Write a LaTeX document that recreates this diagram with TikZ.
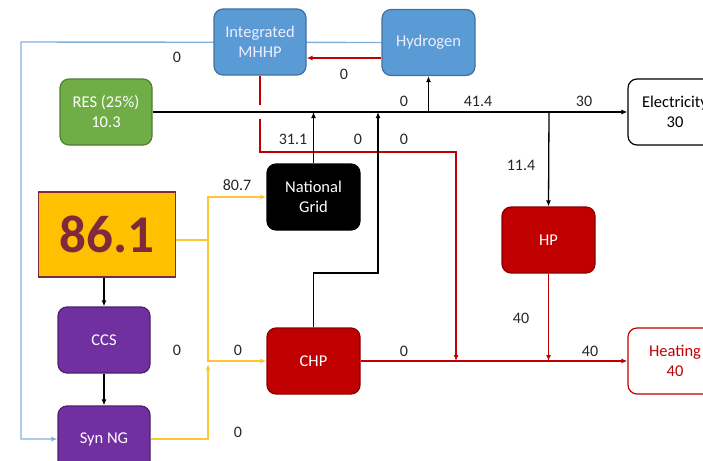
\documentclass[tikz,border=0pt]{standalone}
\usepackage{fontspec}
\setmainfont{Carlito}
\usetikzlibrary{arrows.meta,backgrounds}

\definecolor{mblue}{HTML}{5B9BD5}
\definecolor{mblueD}{HTML}{41719C}
\definecolor{lblue}{HTML}{7FB0DD}
\definecolor{mgreen}{HTML}{70AD47}
\definecolor{mgreenD}{HTML}{507E32}
\definecolor{mpurple}{HTML}{7030A0}
\definecolor{mpurpleD}{HTML}{4E1F72}
\definecolor{mred}{HTML}{C00000}
\definecolor{mredD}{HTML}{8C0000}
\definecolor{myellow}{HTML}{FFC000}
\definecolor{ylink}{HTML}{FFC533}
\definecolor{maroon}{HTML}{7F2A3C}

\begin{document}
\begin{tikzpicture}[x=1pt,y=-1pt,
  box/.style={rounded corners=9pt, minimum width=92pt, minimum height=66pt,
    line width=1.2pt, align=center, inner sep=0pt,
    font=\fontsize{16.5}{20}\selectfont},
  lbl/.style={inner sep=0pt, text=black!85, font=\fontsize{16}{18}\selectfont},
  tip/.style={-{Latex[length=6pt,width=5pt]}},
  blk/.style={line width=1.3pt, black, tip},
  redl/.style={line width=1.4pt, mred, tip},
  yel/.style={line width=1.4pt, ylink, tip},
  blu/.style={line width=1.4pt, lblue, tip}]

\useasboundingbox (0,0) rectangle (703,460);
\clip (0,0) rectangle (703,460);

% process boxes
\node[box, fill=mblue, draw=mblueD, text=white!93!blue] (mhhp) at (260,42) {Integrated\\MHHP};
\node[box, fill=mblue, draw=mblueD, text=white!93!blue, minimum width=93pt] (hyd) at (428.5,42.5) {Hydrogen};
\node[box, fill=mgreen, draw=mgreenD, text=white] (res) at (106,112) {RES (25\%)\\10.3};
\node[box, fill=white, draw=black, minimum width=94pt] (elec) at (675,112) {Electricity\\30};
\node[box, fill=black, draw=black, text=white, minimum width=93pt] (ng) at (313.5,197) {National\\Grid};
\node[draw=maroon, fill=myellow, line width=1.4pt, minimum width=137pt, minimum height=85pt,
  inner sep=0pt, text=maroon, font=\fontsize{53}{53}\selectfont\bfseries] (big) at (107,234.5) {86.1};
\node[box, fill=mpurple, draw=mpurpleD, text=white] (ccs) at (104,340) {CCS};
\node[box, fill=mpurple, draw=mpurpleD, text=white] (syn) at (104,439) {Syn NG};
\node[box, fill=mred, draw=mredD, text=white, minimum width=93pt] (chp) at (313.5,361) {CHP};
\node[box, fill=mred, draw=mredD, text=white, minimum width=93pt] (hp) at (548.5,240) {HP};
\node[box, fill=white, draw=mred, text=mred, minimum width=94pt] (heat) at (675,361) {Heating\\40};

% junction points on the flow lines
\coordinate (bl) at (21,42);
\coordinate (redturn) at (456,152);
\coordinate (redin) at (456,361);
\coordinate (chpup) at (378,273);
\coordinate (hpsplit) at (549,112);
\coordinate (ysplit) at (208,240);
\coordinate (yin) at (208,364);

\begin{scope}[on background layer]
  % hydrogen feed to Syn NG
  \draw[blu] (hyd.west) -- (bl) |- (syn.west);
  % hydrogen to MHHP
  \draw[redl] (hyd.west |- 0,58) -- (mhhp.east |- 0,58);
  % MHHP heat output
  \draw[redl] (mhhp.south) |- (redturn) -- (redin);
  \draw[white, line width=4pt] (260,105) -- (260,119);
  % electricity bus
  \draw[blk] (res.east) -- (elec.west);
  \draw[blk] (hyd.south |- res.east) -- (hyd.south);
  \draw[blk] (ng.north) -- (ng.north |- res.east);
  \draw[blk] (chp.north) |- (chpup) -- (chpup |- res.east);
  \draw[blk] (hpsplit) -- (hp.north);
  \draw[redl] (hp.south) -- (hp.south |- chp.east);
  \draw[redl] (chp.east) -- (heat.west);
  % gas supply
  \draw[yel] (big.east |- ysplit) -- (ysplit) |- (ng.west);
  \draw[yel] (ysplit) |- (chp.west);
  \draw[yel] (syn.east) -| (yin);
  \draw[blk] (ccs.north |- big.south) -- (ccs.north);
  \draw[blk] (ccs.south) -- (syn.north);
\end{scope}

% flow values
\node[lbl] (v1) at (177,57) {0};
\node[lbl] (v2) at (344,74) {0};
\node[lbl] (v3) at (404,101) {0};
\node[lbl] (v4) at (478,101) {41.4};
\node[lbl] (v5) at (584,101) {30};
\node[lbl] (v6) at (293,139) {31.1};
\node[lbl] (v7) at (358,139) {0};
\node[lbl] (v8) at (404,139) {0};
\node[lbl] (v9) at (521,165) {11.4};
\node[lbl] (v10) at (237,185) {80.7};
\node[lbl] (v11) at (521,318) {40};
\node[lbl] (v12) at (177,350) {0};
\node[lbl] (v13) at (238,350) {0};
\node[lbl] (v14) at (404,351) {0};
\node[lbl] (v15) at (590,351) {40};
\node[lbl] (v16) at (238,432) {0};
\end{tikzpicture}
\end{document}
